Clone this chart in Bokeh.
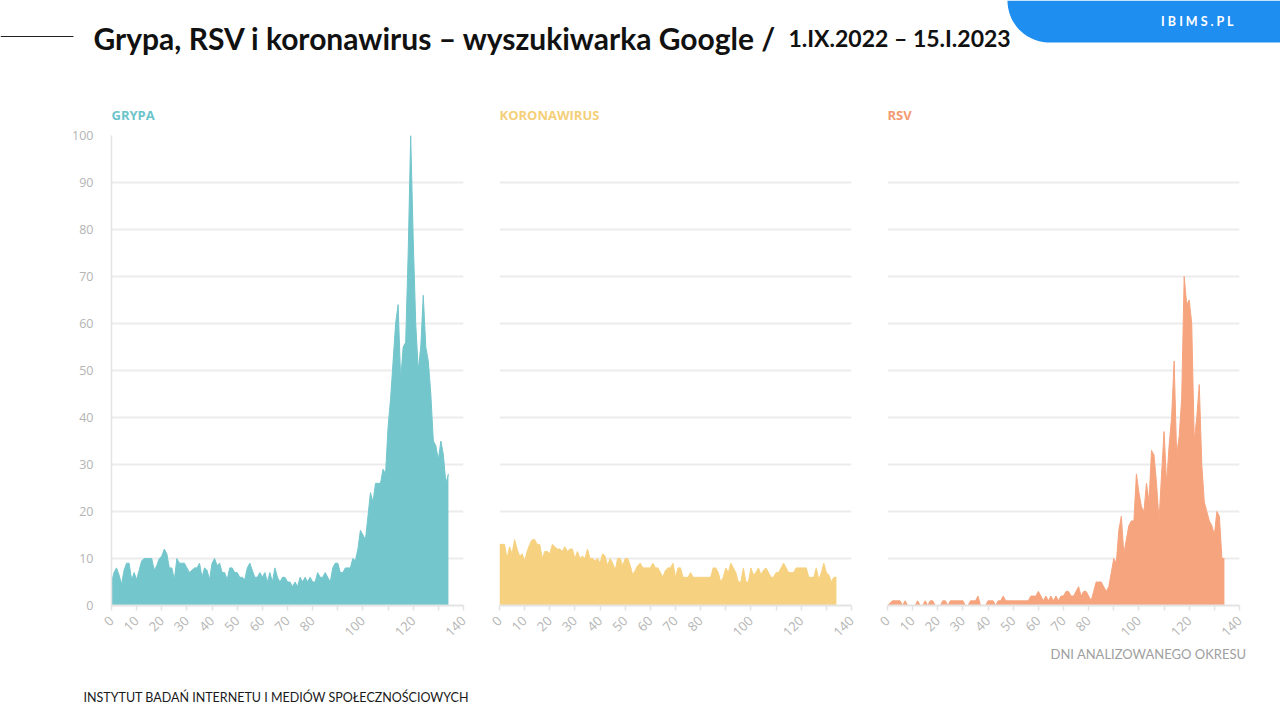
import math
import numpy as np
from bokeh.plotting import figure
from bokeh.layouts import column, row
from bokeh.models import Range1d, FixedTicker
from bokeh.core.properties import value
from bokeh.embed import file_html
from bokeh.resources import INLINE

# ---------------- data ----------------
days = list(range(0, 135))

grypa = [5, 7, 8, 6.5, 4.5, 7.5, 9, 9, 5.5, 7,
         5.5, 7.5, 9.5, 10, 10, 10, 10, 7.5, 8.5, 10,
         10.5, 12, 11, 8, 8, 5.5, 10, 9, 9, 9,
         8, 7, 7.5, 8, 8, 9, 6, 8, 7.5, 5.5,
         9, 10, 8.5, 9, 7, 7, 5.5, 8, 8, 7,
         7, 6, 6, 5.5, 8, 9, 7.5, 6, 6, 7,
         6, 7, 5, 7, 5, 8, 6, 5, 6, 6,
         5, 5, 4, 5, 4, 6, 5, 6, 5, 6,
         5, 5, 7, 6, 6, 7, 6, 5, 8, 9,
         9, 7, 7, 8, 8, 8, 10, 9.5, 12, 16,
         15, 14, 19, 24, 22, 26, 26, 26, 29, 28,
         38, 44, 52, 60, 64, 48, 55, 56, 75, 100,
         78, 60, 50, 55, 66, 55, 52, 45, 35, 34,
         31, 35, 32, 26, 28]

koronawirus = [13, 13, 13, 10, 12.5, 11, 14, 12, 10.5, 11,
               9.5, 11.5, 13, 14, 14, 13, 13, 10, 11.5, 11.5,
               11, 13, 12.5, 12, 12, 11.5, 12.5, 11.5, 12, 12,
               10, 11.5, 10, 10.5, 10, 12, 10, 10, 9.5, 10,
               9, 11, 10.5, 8.5, 10, 9, 7.5, 10, 10, 8.5,
               10, 10, 8.5, 6.5, 7.5, 8.5, 9, 8, 8, 8,
               8, 9, 8, 8, 7, 6, 7.5, 8, 8, 9,
               6, 8, 8, 6, 6, 6, 7, 6, 6, 6,
               6, 6, 6, 6, 6, 8, 8, 7, 5, 6,
               8, 7, 9, 8, 7, 5, 5, 8, 5, 5,
               8, 6.5, 7, 8, 6.5, 7.5, 8, 7, 6, 6,
               7, 7, 8, 9, 8, 7, 7, 7, 8, 8,
               8, 8, 8, 6, 6, 6, 8, 5.5, 7, 9,
               7, 6.5, 5, 6, 6]

rsv = [0, 0.5, 1, 1, 1, 1, 0, 1, 0, 0,
       0, 0, 1, 0, 0, 1, 0, 1, 1, 0,
       0, 0, 1, 1, 0, 1, 1, 1, 1, 1,
       1, 0, 0, 1, 1, 1, 2, 0, 0, 0,
       1, 1, 1, 0, 1, 1, 2, 1, 1, 1,
       1, 1, 1, 1, 1, 1, 1, 2, 2, 2,
       3, 2, 1, 2, 1, 2, 1, 2, 1, 2,
       2, 3, 3, 2, 2, 3, 4, 2, 3, 3,
       2, 1, 3, 5, 5, 5, 4, 3, 4, 7,
       10, 9, 16, 19, 11, 14, 17, 18, 18, 28,
       24, 21, 20, 26, 22, 33, 32, 26, 18, 28,
       37, 26, 34, 40, 52, 32, 36, 44, 70, 64,
       65, 60, 35, 40, 47, 30, 22, 20, 18, 17,
       15, 20, 19, 10, 10]

panel_titles = ["GRYPA", "KORONAWIRUS", "RSV"]
fill_colors = ["#73c6cc", "#f6d17f", "#f6a47e"]
title_colors = ["#6cc4cb", "#f5cf78", "#f39a72"]
x_ticks = list(range(0, 150, 10))
x_hidden = {90: "", 110: "", 130: ""}
y_ticks = list(range(0, 110, 10))

main_title = "Grypa, RSV i koronawirus – wyszukiwarka Google /"
date_text = "1.IX.2022 – 15.I.2023"
brand = "I B I M S . P L"
x_label = "DNI ANALIZOWANEGO OKRESU"
footer_text = "INSTYTUT BADAŃ INTERNETU I MEDIÓW SPOŁECZNOŚCIOWYCH"

TICK_FONT = "Open Sans"
GRID = "#ececec"
AXIS = "#e3e3e3"
LABEL = "#b4b4b4"

W = 1280


def blank(width, height):
    p = figure(width=width, height=height, x_range=Range1d(0, width),
               y_range=Range1d(height, 0), output_backend="svg",
               toolbar_location=None, min_border=0,
               x_axis_type=None, y_axis_type=None)
    p.outline_line_color = None
    p.xgrid.visible = False
    p.ygrid.visible = False
    return p


# ---------------- header ----------------
HEAD_H = 91
head = blank(W, HEAD_H)
head.line(x=[0, 73], y=[36, 36], line_color="#222222", line_width=1.2)
head.text(x=[93], y=[37], text=[main_title], text_font=value("Lato"),
          text_font_style="bold", text_font_size="30px", text_color="#111111",
          text_baseline="alphabetic", text_align="left")
head.text(x=[788], y=[37], text=[date_text], text_font=value("Lato"),
          text_font_style="bold", text_font_size="23px", text_color="#111111",
          text_baseline="alphabetic", text_align="left")
# rounded badge (decoration)
t = np.linspace(0, math.pi / 2, 30)
bx = list(1049 - 42 * np.cos(t)) + [1280, 1280]
by = list(0 + 42 * np.sin(t)) + [42, 0]
head.patch(x=bx, y=by, fill_color="#1f8ef1", line_color=None)
head.text(x=[1197], y=[21], text=[brand], text_font=value("Lato"),
          text_font_style="bold", text_font_size="12.5px", text_color="white",
          text_baseline="middle", text_align="center")


# ---------------- panels ----------------
def make_panel(i, values, left, right, show_y):
    p = figure(frame_width=352, frame_height=470,
               x_range=Range1d(0, 140), y_range=Range1d(0, 100),
               output_backend="svg", toolbar_location=None,
               min_border_left=left, min_border_right=right,
               min_border_top=40, min_border_bottom=40)
    p.outline_line_color = None
    p.title.text = panel_titles[i]
    p.title.text_font = "Open Sans"
    p.title.text_font_style = "bold"
    p.title.text_font_size = "13px"
    p.title.text_color = title_colors[i]
    p.title.align = "left"
    p.title.standoff = 24

    p.varea(x=days, y1=0, y2=values, fill_color=fill_colors[i], fill_alpha=1.0)
    p.line(x=days, y=values, line_color=fill_colors[i], line_width=1)

    p.xaxis.ticker = FixedTicker(ticks=x_ticks)
    p.xaxis.major_label_overrides = x_hidden
    p.xaxis.major_label_orientation = math.pi / 4
    p.xaxis.axis_line_color = AXIS
    p.xaxis.axis_line_width = 2
    p.xaxis.major_tick_line_color = AXIS
    p.xaxis.major_tick_line_width = 1.5
    p.xaxis.major_tick_in = 0
    p.xaxis.major_tick_out = 5
    p.xaxis.minor_tick_line_color = None
    p.xaxis.major_label_standoff = 8
    p.xaxis.major_label_text_font = TICK_FONT
    p.xaxis.major_label_text_font_size = "13px"
    p.xaxis.major_label_text_color = LABEL

    p.yaxis.ticker = FixedTicker(ticks=y_ticks)
    p.yaxis.axis_line_color = AXIS
    p.yaxis.axis_line_width = 1.5
    p.yaxis.major_tick_line_color = None
    p.yaxis.minor_tick_line_color = None
    p.yaxis.major_label_standoff = 12
    p.yaxis.major_label_text_font = TICK_FONT
    p.yaxis.major_label_text_font_size = "12.5px"
    p.yaxis.major_label_text_color = LABEL
    p.yaxis.visible = show_y

    p.xgrid.visible = False
    p.ygrid.ticker = FixedTicker(ticks=y_ticks)
    p.ygrid.grid_line_color = GRID
    p.ygrid.grid_line_width = 2
    return p


p1 = make_panel(0, grypa, 111, 18, True)
p2 = make_panel(1, koronawirus, 18, 18, False)
p3 = make_panel(2, rsv, 18, 41, False)

# ---------------- footer ----------------
FOOT_H = 70
foot = blank(W, FOOT_H)
foot.text(x=[1246], y=[8], text=[x_label], text_font=value("Lato"),
          text_font_size="13px", text_color="#a0a0a0",
          text_baseline="middle", text_align="right")
foot.text(x=[83], y=[52], text=[footer_text], text_font=value("Lato"),
          text_font_size="12.5px", text_color="#1a1a1a",
          text_baseline="middle", text_align="left")

layout = column(head, row(p1, p2, p3), foot)

open("out.html", "w").write(file_html(layout, INLINE))
